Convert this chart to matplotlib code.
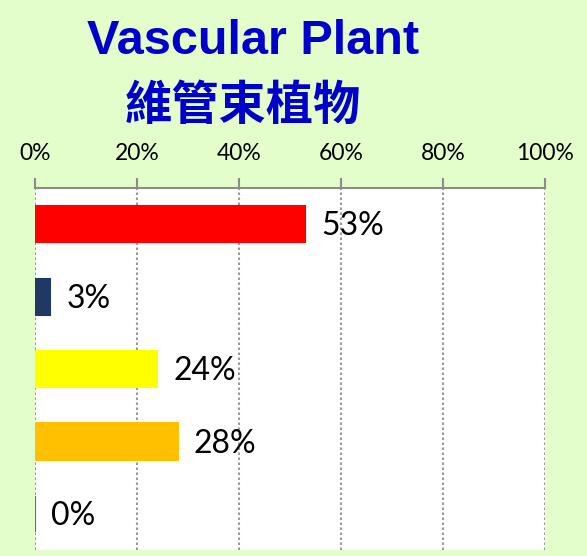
import matplotlib.pyplot as plt
from matplotlib.ticker import PercentFormatter

plt.rcParams['font.family'] = ['Liberation Sans', 'Noto Sans CJK TC', 'DejaVu Sans']

categories = ["A", "B", "C", "D", "E"]
values = [53, 3, 24, 28, 0]
colors = ["#FF0000", "#1F3864", "#FFFF00", "#FFC000", "#4472C4"]
ticks = [0, 20, 40, 60, 80, 100]

bg = "#E3FDCB"
label_font = ["Lato", "DejaVu Sans"]
fig = plt.figure(figsize=(5.87, 5.56), dpi=100, facecolor=bg)
ax = fig.add_axes([35/587, 6/556, 510/587, 362/556])
ax.set_facecolor("white")

ypos = list(range(len(categories)))
ax.barh(ypos, values, height=0.5, color=colors, edgecolor=colors, linewidth=1.5, zorder=3)
ax.set_ylim(len(categories) - 0.5, -0.5)
ax.set_xlim(0, 100)
ax.set_yticks([])

for y, v in zip(ypos, values):
    ax.text(v + 3.1, y + 0.03, f"{v}%", va="center", ha="left", fontsize=23,
            family=label_font, color="black", zorder=4)

ax.xaxis.tick_top()
ax.set_xticks(ticks)
ax.xaxis.set_major_formatter(PercentFormatter(decimals=0))
ax.tick_params(axis="x", direction="out", length=7, width=1.5, color="#8C8C8C",
               labelsize=16.5, pad=10, labelcolor="black")
for lbl in ax.get_xticklabels():
    lbl.set_family(label_font)
ax.grid(axis="x", linestyle=(0, (1.2, 1.2)), color="#9A9A9A", linewidth=1.5, zorder=1)

for side in ["left", "right", "bottom"]:
    ax.spines[side].set_visible(False)
ax.spines["top"].set_color("#8C8C8C")
ax.spines["top"].set_linewidth(1.5)

fig.text(253/587, 1 - 42/556, "Vascular Plant", ha="center", va="center",
         fontsize=35, fontweight="bold", color="#0000CC")
fig.text(243/587, 1 - 106/556, "維管束植物", ha="center", va="center",
         fontsize=34, fontweight="bold", color="#0000CC",
         family=["Noto Sans CJK TC", "DejaVu Sans"])

fig.savefig("out.png", dpi=100, facecolor=bg)
